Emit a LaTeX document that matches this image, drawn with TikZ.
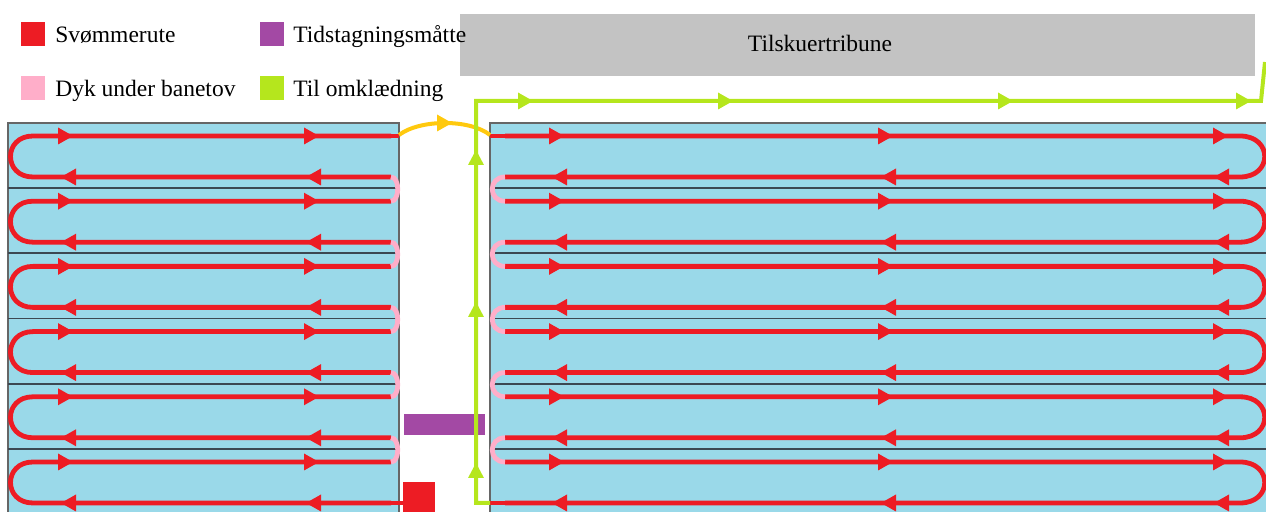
\documentclass[tikz,border=0pt]{standalone}
\usepackage{fontspec}
\setmainfont{Liberation Serif}
\usetikzlibrary{calc}
\definecolor{poolblue}{RGB}{154,217,233}
\definecolor{swimred}{RGB}{237,28,36}
\definecolor{divepink}{RGB}{255,174,201}
\definecolor{matpurple}{RGB}{163,73,164}
\definecolor{exitgreen}{RGB}{181,230,29}
\definecolor{crossyellow}{RGB}{255,201,14}
\definecolor{standgray}{RGB}{195,195,195}
\definecolor{ropegray}{RGB}{60,72,82}

% arrow heads: colour, x, y of the tip
\newcommand{\rtip}[3]{\fill[#1] (#2,#3) -- ++(-15,-8.5) -- ++(0,17) -- cycle;}
\newcommand{\ltip}[3]{\fill[#1] (#2,#3) -- ++(15,-8.5) -- ++(0,17) -- cycle;}
\newcommand{\utip}[3]{\fill[#1] (#2,#3) -- ++(-8,15) -- ++(16,0) -- cycle;}

\tikzset{
  swim/.style={swimred,line width=2.4pt},
  dive/.style={divepink,line width=2.4pt},
  rope/.style={ropegray,line width=0.9pt},
  poolbox/.style={fill=poolblue,draw=gray!80!black,line width=0.6pt},
  legend/.style={anchor=base west,inner sep=0pt}
}

\begin{document}
\begin{tikzpicture}[x=0.5pt,y=-0.5pt,font=\fontsize{11.75}{14}\selectfont]
\clip (0,0) rectangle (1266,512);

% tribune
\fill[standgray] (460,14) rectangle (1255,76);
\node[anchor=base] (tribune) at (820,52) {Tilskuertribune};

% legend
\fill[swimred] (21,22) rectangle (45,46);
\node[legend] (svoem) at (55,43) {Svømmerute};
\fill[divepink] (21,76) rectangle (45,100);
\node[legend] (dyk) at (55,97) {Dyk under banetov};
\fill[matpurple] (260,22) rectangle (284,46);
\node[legend] (tid) at (293,43) {Tidstagningsmåtte};
\fill[exitgreen] (260,76) rectangle (284,100);
\node[legend] (omkl) at (293,97) {Til omklædning};

% pools
\filldraw[poolbox] (8,123) rectangle (399,540);
\filldraw[poolbox] (490,123) rectangle (1300,540);
\foreach \k in {1,...,5}{
  \draw[rope] (8,{123+65.2*\k}) -- (399,{123+65.2*\k});
  \draw[rope] (490,{123+65.2*\k}) -- (1300,{123+65.2*\k});
}

% mat
\fill[matpurple] (404,414) rectangle (485,435);

% lanes
\foreach \k in {0,...,5}{
  \pgfmathsetmacro\t{136+65.2*\k}
  \pgfmathsetmacro\b{177+65.2*\k}
  \draw[swim] (391,\b) -- (33,\b) .. controls (3,\b) and (3,\t) .. (33,\t) -- (391,\t);
  \rtip{swimred}{73}{\t} \rtip{swimred}{319}{\t}
  \ltip{swimred}{61}{\b} \ltip{swimred}{306}{\b}
  \draw[swim] (505,\t) -- (1240,\t) .. controls (1273,\t) and (1273,\b) .. (1240,\b) -- (505,\b);
  \rtip{swimred}{564}{\t} \rtip{swimred}{893}{\t} \rtip{swimred}{1228}{\t}
  \ltip{swimred}{552}{\b} \ltip{swimred}{881}{\b} \ltip{swimred}{1214}{\b}
}
\foreach \k in {0,...,4}{
  \pgfmathsetmacro\b{177+65.2*\k}
  \pgfmathsetmacro\n{201.2+65.2*\k}
  \draw[dive] (391,\b) .. controls (400,\b) and (400,\n) .. (391,\n);
  \draw[dive] (505,\b) .. controls (488,\b) and (488,\n) .. (505,\n);
}
\draw[swim] (391,136) -- (399,136);
\draw[swim] (490,136) -- (505,136);
\draw[swim] (391,503) -- (404,503);
\draw[swim] (490,503) -- (505,503);

% crossing between the pools
\coordinate (A) at (399,135);
\coordinate (B) at (490,135);
\draw[crossyellow,line width=2pt] (A) .. controls (420,119) and (470,119) .. (B);
\rtip{crossyellow}{452}{123}

% start
\fill[swimred] (403,482) rectangle (435,520);

% way out
\coordinate (C) at (490,503);
\coordinate (D) at (1265,62);
\draw[exitgreen,line width=2pt] (C) -- (476,503) -- (476,101) -- (1261,101) -- (D);
\utip{exitgreen}{476}{150} \utip{exitgreen}{476}{302} \utip{exitgreen}{476}{463}
\rtip{exitgreen}{533}{101} \rtip{exitgreen}{733}{101} \rtip{exitgreen}{1013}{101} \rtip{exitgreen}{1251}{101}
\end{tikzpicture}
\end{document}
